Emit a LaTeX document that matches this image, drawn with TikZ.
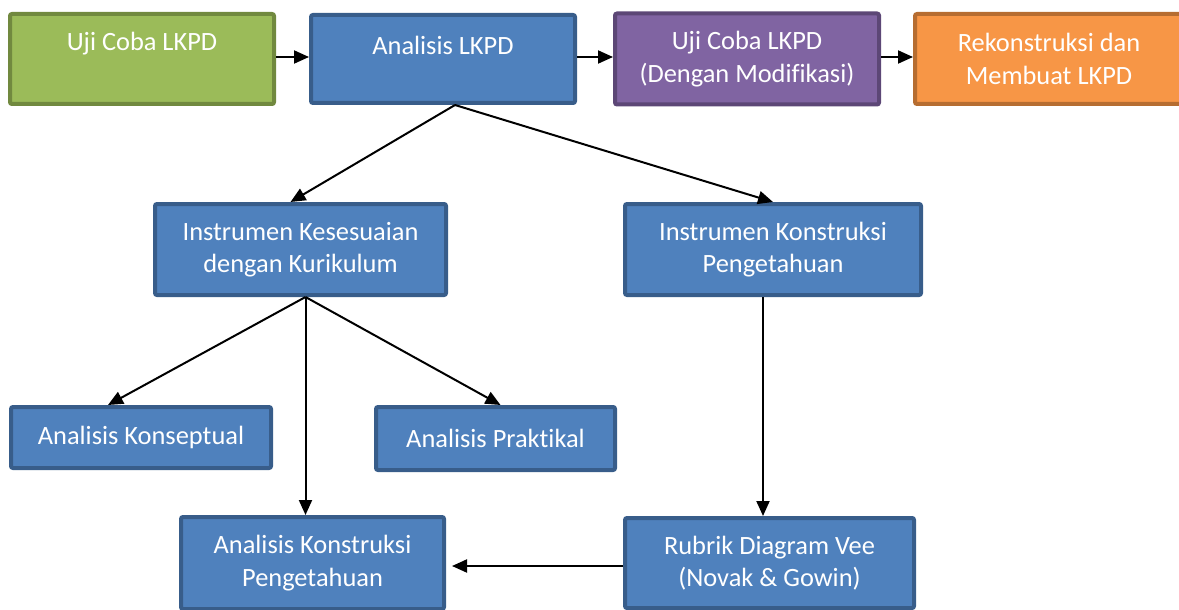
\documentclass[tikz,border=0pt]{standalone}
\usepackage{fontspec}
\setmainfont{Carlito}[Ligatures=NoCommon]
\usepackage{xcolor}
\definecolor{cBlue}{HTML}{4F81BD}
\definecolor{cBlueEdge}{HTML}{385D8A}
\definecolor{cGreen}{HTML}{9BBB59}
\definecolor{cGreenEdge}{HTML}{71893F}
\definecolor{cPurple}{HTML}{8064A2}
\definecolor{cPurpleEdge}{HTML}{5C4776}
\definecolor{cOrange}{HTML}{F79646}
\definecolor{cOrangeEdge}{HTML}{B66D31}
\usetikzlibrary{positioning,arrows.meta}
\tikzset{
  node-box/.style={draw=cBlueEdge,fill=cBlue,line width=4pt,rounded corners=2pt,
    text=white,align=center,inner sep=0pt,
    font=\fontsize{26.4}{32.5}\selectfont},
  node-green/.style={draw=cGreenEdge,fill=cGreen},
  node-purple/.style={draw=cPurpleEdge,fill=cPurple},
  node-orange/.style={draw=cOrangeEdge,fill=cOrange},
  arrow/.style={-{Triangle[length=15pt,width=13pt]},line width=2pt,draw=black},
}
\begin{document}
\begin{tikzpicture}[x=1pt,y=1pt,node distance=32pt and 32pt]
  \useasboundingbox (0,0) rectangle (1179,-610);
  % baris atas
  \node[node-box,node-green,minimum width=264pt,minimum height=90pt,
    text height=18.5pt,text depth=35.5pt] (ujicoba) at (142,-59) {Uji Coba LKPD};
  \node[node-box,right=33pt of ujicoba,minimum width=264pt,minimum height=88pt,
    text height=18.5pt,text depth=27.5pt] (analisis) {Analisis LKPD};
  \node[node-box,node-purple,right=36pt of analisis,minimum width=264pt,minimum height=91pt] (ujimod)
    {Uji Coba LKPD\\(Dengan Modifikasi)};
  \node[node-box,node-orange,right=32pt of ujimod,minimum width=268pt,minimum height=90pt] (rekon)
    {Rekonstruksi dan\\Membuat LKPD};
  % instrumen
  \node[node-box,minimum width=291pt,minimum height=91pt] (kesesuaian) at (300.5,-249.5)
    {Instrumen Kesesuaian\\dengan Kurikulum};
  \node[node-box,minimum width=296pt,minimum height=91pt] (ikonstruksi) at (773,-249.5)
    {Instrumen Konstruksi\\Pengetahuan};
  % analisis
  \node[node-box,minimum width=260pt,minimum height=61pt] (konseptual) at (141,-437.5)
    {Analisis Konseptual};
  \node[node-box,minimum width=239pt,minimum height=63pt] (praktikal) at (495.5,-438.5)
    {Analisis Praktikal};
  \node[node-box,minimum width=263pt,minimum height=92pt] (akonstruksi) at (312.5,-563)
    {Analisis Konstruksi\\Pengetahuan};
  \node[node-box,minimum width=289pt,minimum height=90pt] (rubrik) at (769.5,-563)
    {Rubrik Diagram Vee\\(Novak \& Gowin)};
  \draw[arrow] (ujicoba.east |- 0,-57) -- (analisis.west |- 0,-57);
  \draw[arrow] (analisis.east |- 0,-57) -- (ujimod.west |- 0,-57);
  \draw[arrow] (ujimod.east |- 0,-57) -- (rekon.west |- 0,-57);
  \draw[arrow] ([xshift=12pt]analisis.south) -- ([xshift=-10pt]kesesuaian.north);
  \draw[arrow] ([xshift=12pt]analisis.south) -- (ikonstruksi.north);
  \draw[arrow] ([xshift=5pt]kesesuaian.south) -- ([xshift=-33pt]konseptual.north);
  \draw[arrow] ([xshift=5pt]kesesuaian.south) -- ([xshift=5pt]praktikal.north);
  \draw[arrow] ([xshift=5pt]kesesuaian.south) -- ([xshift=5pt]kesesuaian.south |- akonstruksi.north);
  \draw[arrow] ([xshift=-10pt]ikonstruksi.south) -- ([xshift=-10pt]ikonstruksi.south |- rubrik.north);
  \draw[arrow] (rubrik.west |- 0,-566) -- ([xshift=6pt]akonstruksi.east |- 0,-566);
\end{tikzpicture}
\end{document}
